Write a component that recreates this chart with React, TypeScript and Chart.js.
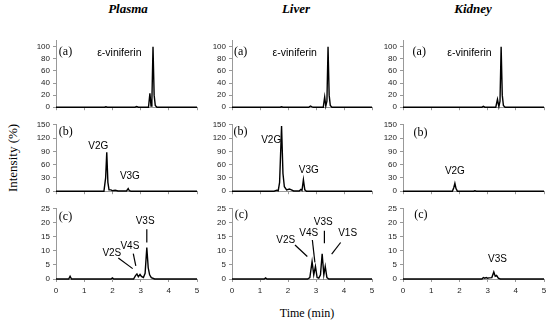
import React, { useEffect, useRef } from 'react';
import { Chart, registerables } from 'chart.js';
Chart.register(...registerables);

// ---------- data: retention time (min) and intensity (%) ----------
const plasmaA_t = [0, 1.72, 1.77, 1.82, 2.8, 2.86, 2.92, 3.28, 3.33, 3.37, 3.4, 3.44, 3.48, 3.52, 3.58, 5];
const plasmaA_y = [0, 0, 0.8, 0, 0, 1, 0, 0, 23, 2, 10, 100, 20, 3, 0, 0];
const liverA_t = [0, 1.72, 1.77, 1.82, 2.74, 2.8, 2.86, 2.9, 3.26, 3.31, 3.35, 3.39, 3.43, 3.47, 3.51, 3.57, 5];
const liverA_y = [0, 0, 0.8, 0, 0, 2, 0.5, 0, 0, 17, 2, 10, 100, 20, 3, 0, 0];
const kidneyA_t = [0, 2.8, 2.85, 2.9, 3.29, 3.35, 3.4, 3.44, 3.48, 3.52, 3.56, 3.62, 5];
const kidneyA_y = [0, 0, 1.5, 0, 0, 13, 1, 10, 100, 20, 3, 0, 0];

const plasmaB_t = [0, 1.7, 1.76, 1.8, 1.84, 1.88, 1.95, 2.0, 2.1, 2.2, 2.5, 2.56, 2.6, 2.66, 5];
const plasmaB_y = [0, 0, 30, 88, 20, 3, 3, 1, 2, 0.5, 0.5, 6, 1, 0, 0];
const liverB_t = [0, 1.5, 1.6, 1.65, 1.7, 1.77, 1.82, 1.87, 1.95, 2.05, 2.12, 2.2, 2.4, 2.46, 2.5, 2.55, 2.6, 2.66, 5];
const liverB_y = [0, 0, 2, 1, 20, 147, 40, 10, 3, 5, 3, 0.5, 0.5, 4, 2, 26, 3, 0, 0];
const kidneyB_t = [0, 1.75, 1.8, 1.84, 1.88, 1.93, 2.5, 2.55, 2.6, 5];
const kidneyB_y = [0, 0, 8, 18, 6, 0, 0, 1, 0, 0];

const plasmaC_t = [0, 0.45, 0.5, 0.55, 1.95, 2.0, 2.05, 2.75, 2.82, 2.87, 2.92, 2.98, 3.03, 3.1, 3.16, 3.22, 3.27, 3.32, 3.38, 3.5, 5];
const plasmaC_y = [0, 0, 1, 0, 0, 0.4, 0, 0, 1.2, 1.8, 0.8, 1.6, 0.9, 0.5, 2, 11.2, 4, 1.5, 0.5, 0, 0];
const liverC_t = [0, 1.15, 1.2, 1.25, 2.7, 2.78, 2.86, 2.92, 2.98, 3.04, 3.1, 3.16, 3.22, 3.28, 3.33, 3.39, 3.46, 5];
const liverC_y = [0, 0, 0.4, 0, 0, 0.5, 6.2, 1.5, 4.5, 0.5, 0.3, 1.5, 9, 1.5, 4.5, 0.5, 0, 0];
const kidneyC_t = [0, 2.8, 2.85, 2.9, 2.95, 3.0, 3.05, 3.15, 3.22, 3.27, 3.32, 3.38, 3.45, 5];
const kidneyC_y = [0, 0, 0.5, 0.3, 0.5, 0.3, 0.4, 0.5, 2.5, 1.0, 1.3, 0.3, 0, 0];

const tissues = ['Plasma', 'Liver', 'Kidney'];
const yMaxes = [110, 150, 25];
const yTicksA = [0, 20, 40, 60, 80, 100];
const yTicksB = [0, 30, 60, 90, 120, 150];
const yTicksC = [0, 5, 10, 15, 20, 25];
const yTickSets = [yTicksA, yTicksB, yTicksC];
const xTicks = [0, 1, 2, 3, 4, 5];

// ---------- layout ----------
const COLS = [
  { left: 56, right: 197, cx: 128 },
  { left: 232, right: 372, cx: 296 },
  { left: 403, right: 544, cx: 473 },
];
const ROWS = [
  { top: 39, bottom: 110 },
  { top: 123, bottom: 194 },
  { top: 207, bottom: 279 },
];

type Ann = { kind: 'panel' | 'label' | 'line'; text?: string; x: number; y: number; x2?: number; y2?: number; align?: CanvasTextAlign };

const ANN: Ann[][][] = [
  [
    [{ kind: 'panel', text: '(a)', x: 0.1, y: 92 }, { kind: 'label', text: 'ε-viniferin', x: 1.46, y: 90, align: 'left' }],
    [{ kind: 'panel', text: '(b)', x: 0.1, y: 135 }, { kind: 'label', text: 'V2G', x: 1.5, y: 101 }, { kind: 'label', text: 'V3G', x: 2.62, y: 34 }],
    [
      { kind: 'panel', text: '(c)', x: 0.1, y: 22.2 },
      { kind: 'label', text: 'V3S', x: 3.16, y: 20.5 },
      { kind: 'line', x: 3.22, y: 17.7, x2: 3.22, y2: 13.0 },
      { kind: 'label', text: 'V4S', x: 2.62, y: 11.8 },
      { kind: 'line', x: 2.74, y: 9.0, x2: 2.83, y2: 4.7 },
      { kind: 'label', text: 'V2S', x: 1.98, y: 9.3 },
      { kind: 'line', x: 2.21, y: 7.5, x2: 2.72, y2: 3.7 },
    ],
  ],
  [
    [{ kind: 'panel', text: '(a)', x: 0.07, y: 91 }, { kind: 'label', text: 'ε-viniferin', x: 1.45, y: 90, align: 'left' }],
    [{ kind: 'panel', text: '(b)', x: 0.05, y: 134 }, { kind: 'label', text: 'V2G', x: 1.4, y: 114 }, { kind: 'label', text: 'V3G', x: 2.74, y: 47 }],
    [
      { kind: 'panel', text: '(c)', x: 0.1, y: 22.8 },
      { kind: 'label', text: 'V3S', x: 3.26, y: 20.2 },
      { kind: 'line', x: 3.3, y: 17.2, x2: 3.3, y2: 12.7 },
      { kind: 'label', text: 'V4S', x: 2.74, y: 16.2 },
      { kind: 'line', x: 2.87, y: 13.9, x2: 2.96, y2: 5.9 },
      { kind: 'label', text: 'V2S', x: 1.92, y: 13.8 },
      { kind: 'line', x: 2.25, y: 12.1, x2: 2.69, y2: 8.0 },
      { kind: 'label', text: 'V1S', x: 4.13, y: 16.2 },
      { kind: 'line', x: 3.88, y: 13.0, x2: 3.56, y2: 8.9 },
    ],
  ],
  [
    [{ kind: 'panel', text: '(a)', x: 0.34, y: 91 }, { kind: 'label', text: 'ε-viniferin', x: 1.57, y: 90, align: 'left' }],
    [{ kind: 'panel', text: '(b)', x: 0.37, y: 132 }, { kind: 'label', text: 'V2G', x: 1.84, y: 44 }],
    [{ kind: 'panel', text: '(c)', x: 0.4, y: 22.8 }, { kind: 'label', text: 'V3S', x: 3.35, y: 7.2 }],
  ],
];

const SERIES: [number[], number[]][][] = [
  [[plasmaA_t, plasmaA_y], [plasmaB_t, plasmaB_y], [plasmaC_t, plasmaC_y]],
  [[liverA_t, liverA_y], [liverB_t, liverB_y], [liverC_t, liverC_y]],
  [[kidneyA_t, kidneyA_y], [kidneyB_t, kidneyB_y], [kidneyC_t, kidneyC_y]],
];

const annPlugin = {
  id: 'annotations',
  afterDraw(chart: any) {
    const anns: Ann[] = chart.options.plugins.annotations?.items || [];
    const { ctx, scales } = chart;
    const xs = scales.x, ys = scales.y;
    ctx.save();
    for (const a of anns) {
      const px = xs.getPixelForValue(a.x);
      const py = ys.getPixelForValue(a.y);
      if (a.kind === 'line') {
        ctx.strokeStyle = '#000';
        ctx.lineWidth = 1.2;
        ctx.beginPath();
        ctx.moveTo(px, py);
        ctx.lineTo(xs.getPixelForValue(a.x2), ys.getPixelForValue(a.y2));
        ctx.stroke();
      } else {
        ctx.fillStyle = '#000';
        ctx.textBaseline = 'middle';
        if (a.kind === 'panel') {
          ctx.font = '12px "Liberation Serif"';
          ctx.textAlign = 'left';
        } else {
          ctx.font = a.text && a.text.startsWith('ε') ? '10.5px "Liberation Sans"' : '10px "Liberation Sans"';
          ctx.textAlign = a.align || 'center';
        }
        ctx.fillText(a.text, px, py);
      }
    }
    ctx.restore();
  },
};

function Panel({ col, row }: { col: number; row: number }) {
  const ref = useRef<HTMLCanvasElement>(null);
  const c = COLS[col], r = ROWS[row];
  const showX = row === 2;
  const padTop = 6, padRight = 8, yW = 30, xH = showX ? 20 : 5;
  const width = c.right - c.left + yW + padRight;
  const height = r.bottom - r.top + padTop + xH;
  useEffect(() => {
    const [ts, vs] = SERIES[col][row];
    const yTicks = yTickSets[row];
    const chart = new Chart(ref.current as HTMLCanvasElement, {
      type: 'line',
      data: {
        datasets: [
          {
            data: ts.map((t, i) => ({ x: t, y: vs[i] })),
            borderColor: '#000',
            borderWidth: 1.4,
            pointRadius: 0,
            tension: 0,
            fill: false,
            clip: 4,
          } as any,
        ],
      },
      options: {
        responsive: false,
        animation: false,
        devicePixelRatio: 1,
        layout: { padding: { top: padTop, right: padRight, left: 0, bottom: 0 } },
        plugins: {
          legend: { display: false },
          tooltip: { enabled: false },
          annotations: { items: ANN[col][row] },
        } as any,
        scales: {
          x: {
            type: 'linear',
            min: 0,
            max: 5,
            afterFit: (s: any) => { s.height = xH; },
            afterBuildTicks: (s: any) => { s.ticks = xTicks.map((v) => ({ value: v })); },
            ticks: { display: showX, font: { size: 8, family: 'Liberation Sans' }, color: '#222', padding: 4, maxRotation: 0 },
            grid: { drawOnChartArea: false, drawTicks: true, tickLength: 3, color: '#999' },
            border: { color: '#999' },
          },
          y: {
            min: 0,
            max: yMaxes[row],
            afterFit: (s: any) => { s.width = yW; },
            afterBuildTicks: (s: any) => { s.ticks = yTicks.map((v) => ({ value: v })); },
            ticks: { font: { size: 8, family: 'Liberation Sans' }, color: '#222', padding: 3 },
            grid: { drawOnChartArea: false, drawTicks: true, tickLength: 3, color: '#999' },
            border: { color: '#999' },
          },
        },
      } as any,
      plugins: [annPlugin],
    });
    return () => chart.destroy();
  }, [col, row]);
  return (
    <canvas
      ref={ref}
      width={width}
      height={height}
      style={{ position: 'absolute', left: c.left - yW, top: r.top - padTop, width, height }}
    />
  );
}

export default function App() {
  const panels = [];
  for (let col = 0; col < 3; col++) for (let row = 0; row < 3; row++) panels.push(<Panel key={col + '-' + row} col={col} row={row} />);
  return (
    <div style={{ position: 'absolute', left: 0, top: 0, width: 550, height: 320, background: '#fff', overflow: 'hidden' }}>
      {tissues.map((t, i) => (
        <div
          key={t}
          style={{
            position: 'absolute', left: COLS[i].cx, top: 9, transform: 'translate(-50%,-50%)',
            font: 'italic bold 13px "Liberation Serif"', color: '#000', whiteSpace: 'nowrap',
          }}
        >
          {t}
        </div>
      ))}
      <div
        style={{
          position: 'absolute', left: 13, top: 158, transform: 'translate(-50%,-50%) rotate(-90deg)',
          font: '13px "Liberation Serif"', color: '#000', whiteSpace: 'nowrap',
        }}
      >
        Intensity (%)
      </div>
      <div
        style={{
          position: 'absolute', left: 307, top: 313, transform: 'translate(-50%,-50%)',
          font: '12px "Liberation Serif"', color: '#000', whiteSpace: 'nowrap',
        }}
      >
        Time (min)
      </div>
      {panels}
    </div>
  );
}
